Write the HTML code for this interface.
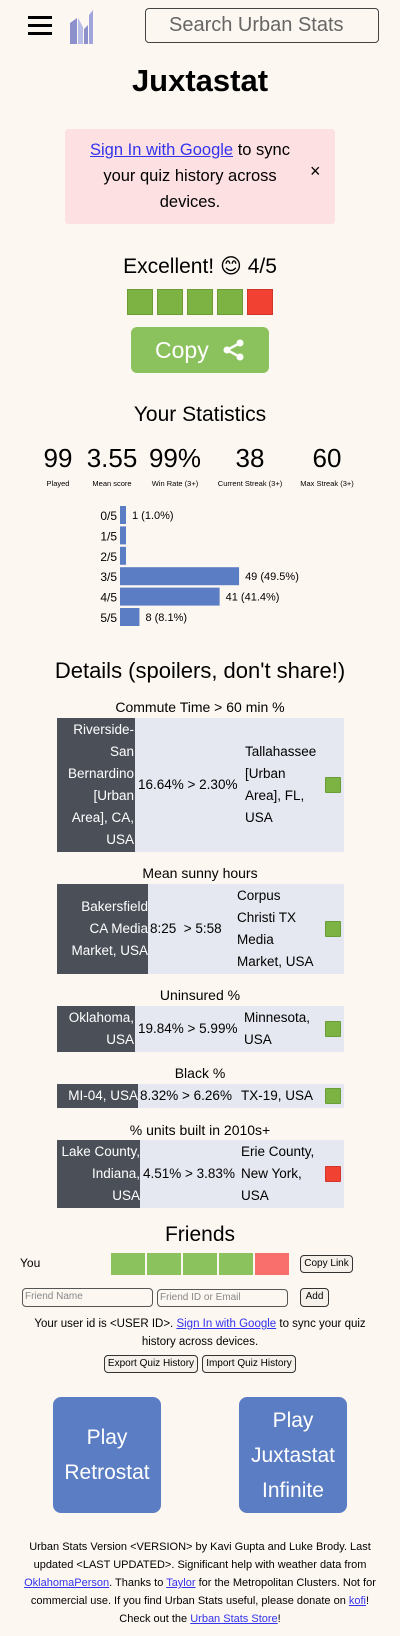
<!DOCTYPE html>
<html><head><meta charset="utf-8"><style>
*{box-sizing:border-box;margin:0;padding:0}
body{width:400px;height:1636px;background:#fdf7f1;font-family:"Liberation Sans","DejaVu Sans",sans-serif;color:#000;position:relative;overflow:hidden}
.a{position:absolute}
.c{position:absolute;left:0;width:400px;text-align:center}
a{color:#3333ee;text-decoration:underline}
.sq{position:absolute;width:16px;height:16px;border-radius:1px}
.g{background:#7db343;border:1px solid #6a9c38}
.r{background:#f04133;border:1px solid #d0362a}
.tb{position:absolute;left:57px;width:287px;background:#e5e8f0;font-size:13.5px;line-height:22px}
.dk{position:absolute;left:0;top:0;bottom:0;background:#4a4f58;color:#fff;text-align:right;display:flex;align-items:center;justify-content:flex-end;white-space:nowrap;overflow:hidden}
.mid{position:absolute;top:0;bottom:0;display:flex;align-items:center;white-space:nowrap}
.rt{position:absolute;top:0;bottom:0;display:flex;align-items:center;white-space:nowrap}
.tt{font-size:14px}
.btn{position:absolute;border:1px solid #333;border-radius:4px;background:#f5f1ea;font-size:10px;text-align:center;line-height:16px}
.inp{position:absolute;border:1px solid #555;border-radius:4px;font-size:10px;color:#888;padding-left:2px;line-height:16px;background:#fdf7f1}
.play{position:absolute;background:#5b7dc4;border-radius:8px;color:#fff;font-size:21px;line-height:35px;display:flex;align-items:center;justify-content:center;text-align:center}
</style></head><body>
<div class="a" style="left:28px;top:16px;width:24px;height:20px">
<div style="height:3px;background:#000;margin-bottom:5px"></div><div style="height:3px;background:#000;margin-bottom:5px"></div><div style="height:3px;background:#000"></div></div>
<svg class="a" style="left:70px;top:9px" width="25" height="35"><path d="M0 14 L7 9 L7 35 L0 35Z" fill="#8c90cc"/><path d="M8 9 L13 18 L13 35 L8 35Z" fill="#b8bde8"/><path d="M14 20 L18 16 L18 35 L14 35Z" fill="#8c90cc"/><path d="M19 6 L23 1 L23 35 L19 35Z" fill="#a0a5dc"/></svg>
<div class="a" style="left:145px;top:8px;width:234px;height:35px;border:1px solid #444;border-radius:4px;font-size:20px;color:#666;padding-left:23px;line-height:33px">Search Urban Stats</div>
<div class="c" style="top:63px;font-size:31px;font-weight:bold">Juxtastat</div>
<div class="a" style="left:65px;top:129px;width:270px;height:95px;background:#fde0e2;border-radius:3px">
<div class="a" style="left:10px;top:8px;width:230px;text-align:center;font-size:16.5px;line-height:26px"><a>Sign In with Google</a> to sync your quiz history across devices.</div>
<div class="a" style="left:245px;top:32px;font-size:18px">×</div></div>
<div class="c" style="top:254px;font-size:21px">Excellent! 😊 4/5</div>
<div class="a" style="left:127px;top:289px;width:150px;height:26px">
<div class="a g" style="left:0;width:26px;height:26px"></div><div class="a g" style="left:30px;width:26px;height:26px"></div><div class="a g" style="left:60px;width:26px;height:26px"></div><div class="a g" style="left:90px;width:26px;height:26px"></div><div class="a r" style="left:120px;width:26px;height:26px"></div></div>
<div class="a" style="left:131px;top:327px;width:138px;height:46px;background:#8bc25d;border-radius:6px;color:#fff;font-size:23px;line-height:46px;padding-left:24px">Copy
<svg class="a" style="left:92px;top:12px" width="22" height="22"><circle cx="17" cy="4" r="3.5" fill="#fff"/><circle cx="4" cy="11" r="3.5" fill="#fff"/><circle cx="17" cy="18" r="3.5" fill="#fff"/><path d="M17 4 L4 11 L17 18" stroke="#fff" stroke-width="2.5" fill="none"/></svg></div>
<div class="c" style="top:403px;font-size:21px">Your Statistics</div>
<div id="stats"></div>
<svg id="hist" class="a" style="left:0;top:500px" width="400" height="130"></svg>
<div class="c" style="top:658px;font-size:22px">Details (spoilers, don't share!)</div>

<div class="c tt" style="top:699px">Commute Time &gt; 60 min %</div>
<div class="tb" style="top:718px;height:134px"><div class="dk" style="width:78px;padding-right:1px">Riverside-<br>San<br>Bernardino<br>[Urban<br>Area], CA,<br>USA</div><div class="mid" style="left:81px">16.64% &gt; 2.30%</div><div class="rt" style="left:188px">Tallahassee<br>[Urban<br>Area], FL,<br>USA</div><div class="sq g" style="left:268px;top:59px"></div></div>

<div class="c tt" style="top:865px">Mean sunny hours</div>
<div class="tb" style="top:884px;height:90px"><div class="dk" style="width:91px">Bakersfield<br>CA Media<br>Market, USA</div><div class="mid" style="left:93px">8:25 &nbsp;&gt; 5:58</div><div class="rt" style="left:180px">Corpus<br>Christi TX<br>Media<br>Market, USA</div><div class="sq g" style="left:268px;top:37px"></div></div>

<div class="c tt" style="top:987px">Uninsured %</div>
<div class="tb" style="top:1006px;height:46px"><div class="dk" style="width:78px;padding-right:1px">Oklahoma,<br>USA</div><div class="mid" style="left:81px">19.84% &gt; 5.99%</div><div class="rt" style="left:187px">Minnesota,<br>USA</div><div class="sq g" style="left:268px;top:15px"></div></div>

<div class="c tt" style="top:1065px">Black %</div>
<div class="tb" style="top:1084px;height:24px"><div class="dk" style="width:81px">MI-04, USA</div><div class="mid" style="left:83px">8.32% &gt; 6.26%</div><div class="rt" style="left:184px">TX-19, USA</div><div class="sq g" style="left:268px;top:4px"></div></div>

<div class="c tt" style="top:1122px">% units built in 2010s+</div>
<div class="tb" style="top:1140px;height:68px"><div class="dk" style="width:83px">Lake County,<br>Indiana,<br>USA</div><div class="mid" style="left:86px">4.51% &gt; 3.83%</div><div class="rt" style="left:184px">Erie County,<br>New York,<br>USA</div><div class="sq r" style="left:268px;top:26px"></div></div>

<div class="c" style="top:1223px;font-size:21px">Friends</div>
<div class="a" style="left:20px;top:1256px;font-size:12px">You</div>
<div class="a" style="left:111px;top:1253px;width:34px;height:22px;background:#8bc25d"></div>
<div class="a" style="left:147px;top:1253px;width:34px;height:22px;background:#8bc25d"></div>
<div class="a" style="left:183px;top:1253px;width:34px;height:22px;background:#8bc25d"></div>
<div class="a" style="left:219px;top:1253px;width:34px;height:22px;background:#8bc25d"></div>
<div class="a" style="left:255px;top:1253px;width:34px;height:22px;background:#f86f6b"></div>
<div class="btn" style="left:300px;top:1255px;width:53px;height:18px">Copy Link</div>
<div class="inp" style="left:22px;top:1288px;width:131px;height:19px">Friend Name</div>
<div class="inp" style="left:157px;top:1289px;width:131px;height:18px">Friend ID or Email</div>
<div class="btn" style="left:300px;top:1288px;width:29px;height:19px">Add</div>
<div class="a" style="left:25px;top:1315px;width:350px;text-align:center;font-size:11.5px;line-height:18px">Your user id is &lt;USER ID&gt;. <a>Sign In with Google</a> to sync your quiz history across devices.</div>
<div class="btn" style="left:104px;top:1355px;width:94px;height:18px">Export Quiz History</div>
<div class="btn" style="left:202px;top:1355px;width:94px;height:18px">Import Quiz History</div>
<div class="play" style="left:53px;top:1397px;width:108px;height:116px">Play<br>Retrostat</div>
<div class="play" style="left:239px;top:1397px;width:108px;height:116px">Play<br>Juxtastat<br>Infinite</div>
<div class="a" style="left:18px;top:1538px;width:364px;text-align:center;font-size:11px;line-height:18px">Urban Stats Version &lt;VERSION&gt; by Kavi Gupta and Luke Brody. Last updated &lt;LAST UPDATED&gt;. Significant help with weather data from <a>OklahomaPerson</a>. Thanks to <a>Taylor</a> for the Metropolitan Clusters. Not for commercial use. If you find Urban Stats useful, please donate on <a>kofi</a>! Check out the <a>Urban Stats Store</a>!</div>
<script>
const statValues=["99","3.55","99%","38","60"];
const statLabels=["Played","Mean score","Win Rate (3+)","Current Streak (3+)","Max Streak (3+)"];
const statCenters=[58,112,175,250,327];
const histCats=["0/5","1/5","2/5","3/5","4/5","5/5"];
const histCounts=[1,0,0,49,41,8];
const histLabels=["1 (1.0%)","","","49 (49.5%)","41 (41.4%)","8 (8.1%)"];
const st=document.getElementById('stats');
statValues.forEach((v,i)=>{
 const d=document.createElement('div');d.className='a';
 
 
 d.style.cssText='left:'+(statCenters[i]-45)+'px;top:442px;width:90px;text-align:center';
 d.innerHTML='<div style="font-size:26px;line-height:32px">'+v+'</div><div style="font-size:7.5px;margin-top:5px">'+statLabels[i]+'</div>';
 st.appendChild(d);
});
const svg=document.getElementById('hist');const NS='http://www.w3.org/2000/svg';
const x0=120,scale=2.43,rowH=20.4,y0=6;
const xs=c=>Math.max(6,c*scale);const ys=i=>y0+i*rowH;
histCats.forEach((c,i)=>{
 const r=document.createElementNS(NS,'rect');
 
 
 r.setAttribute('x',x0);r.setAttribute('y',ys(i));r.setAttribute('width',xs(histCounts[i]));r.setAttribute('height',18);r.setAttribute('fill','#5b7dc4');svg.appendChild(r);
 const t=document.createElementNS(NS,'text');
 
 
 t.setAttribute('x',x0-3);t.setAttribute('y',ys(i)+14);t.setAttribute('text-anchor','end');t.setAttribute('font-size','12');t.textContent=c;svg.appendChild(t);
 if(histLabels[i]){const v=document.createElementNS(NS,'text');
 
 
 v.setAttribute('x',x0+xs(histCounts[i])+6);v.setAttribute('y',ys(i)+13);v.setAttribute('font-size','11');v.textContent=histLabels[i];svg.appendChild(v);}
});
</script>
</body></html>
